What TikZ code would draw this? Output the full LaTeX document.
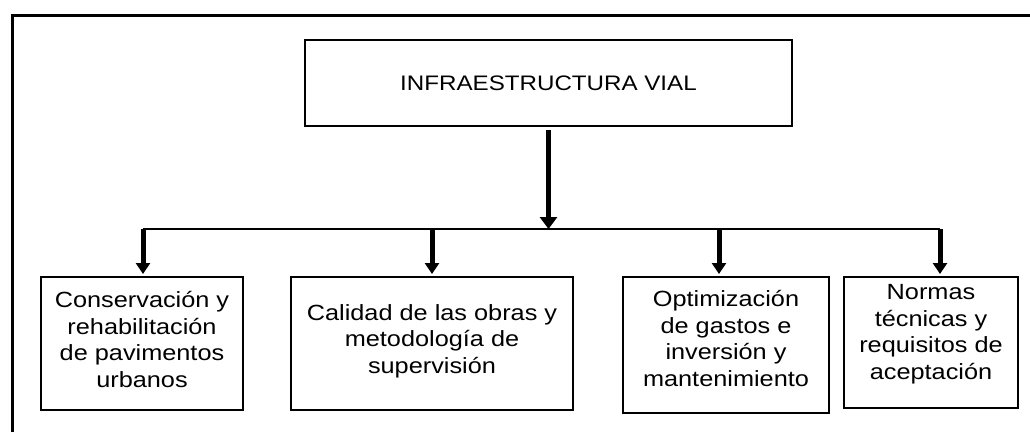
\documentclass[tikz,border=0pt]{standalone}
\usepackage{fontspec}
\setmainfont{Liberation Sans}[FakeStretch=1.15]
\usetikzlibrary{arrows.meta}
\tikzset{
  box/.style={draw, line width=2pt, inner sep=0pt},
  lbl/.style={align=center, anchor=base, inner sep=0pt, font=\fontsize{22}{26.5}\selectfont},
  mainarrow/.style={line width=5.5pt, -{Triangle[width=17pt,length=12pt]}},
  subarrow/.style={line width=5pt, -{Triangle[width=14pt,length=11pt]}, shorten >=2pt},
  bus/.style={line width=2.3pt},
  frame/.style={line width=3pt}
}
\begin{document}
\begin{tikzpicture}[x=1pt,y=1pt]
\useasboundingbox (0,0) rectangle (1030,-432);
\draw[frame] (12,-432) -- (12,-15) -- (1030,-15);
% top box
\node[box, minimum width=487pt, minimum height=86pt] (top) at (548.5,-83) {};
\node[align=center, inner sep=0pt, font=\fontsize{21}{25}\selectfont] (toptext) at (top.center) {INFRAESTRUCTURA VIAL};
% lower boxes
\node[box, minimum width=202pt, minimum height=133pt] (b1) at (142,-343.5) {};
\node[box, minimum width=282pt, minimum height=133pt] (b2) at (432,-343.5) {};
\node[box, minimum width=206pt, minimum height=136pt] (b3) at (726,-345) {};
\node[box, minimum width=174pt, minimum height=131pt] (b4) at (931,-342.5) {};
\node[lbl] (t1) at (142,-387) {Conservación y\\rehabilitación\\de pavimentos\\urbanos};
\node[lbl] (t2) at (432,-373) {Calidad de las obras y\\metodología de\\supervisión};
\node[lbl] (t3) at (726,-386) {Optimización\\de gastos e\\inversión y\\mantenimiento};
\node[lbl] (t4) at (931,-379) {Normas\\técnicas y\\requisitos de\\aceptación};
% bus coordinates
\coordinate (jm) at (548.5,-229);
\coordinate (j1) at (143,-229);
\coordinate (j2) at (432,-229);
\coordinate (j3) at (719,-229);
\coordinate (j4) at (940,-229);
\draw[bus] (j1) -- (j4);
\draw[mainarrow, shorten <=3pt] (top.south) -- (jm);
\draw[subarrow] (j1) -- (j1 |- b1.north);
\draw[subarrow] (j2) -- (j2 |- b2.north);
\draw[subarrow] (j3) -- (j3 |- b3.north);
\draw[subarrow] (j4) -- (j4 |- b4.north);
\end{tikzpicture}
\end{document}
